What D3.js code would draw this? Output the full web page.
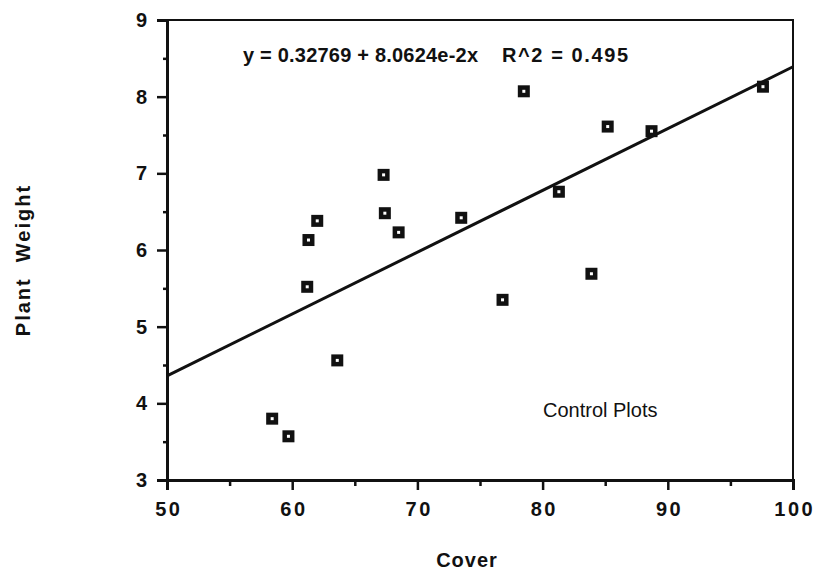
<!DOCTYPE html>
<html>
<head>
<meta charset="utf-8">
<script src="https://cdn.jsdelivr.net/npm/d3@7/dist/d3.min.js"></script>
<style>
  body { margin: 0; background: #fff; }
  svg { display: block; font-family: "Liberation Sans", Arial, sans-serif; }
</style>
</head>
<body>
<section></section>
<script>
// Cover vs Plant Weight, control plots
const cover = [58.4, 59.7, 61.2, 61.3, 62.0, 63.6, 67.3, 67.4, 68.5, 73.5, 76.8, 78.5, 81.3, 83.9, 85.2, 88.7, 97.6];
const weight = [3.80, 3.57, 5.52, 6.13, 6.38, 4.56, 6.98, 6.48, 6.23, 6.42, 5.35, 8.07, 6.76, 5.69, 7.61, 7.55, 8.13];
const xTicks = [50, 60, 70, 80, 90, 100];
const xMinor = [55, 65, 75, 85, 95];
const yTicks = [3, 4, 5, 6, 7, 8, 9];
const yMinor = [3.5, 4.5, 5.5, 6.5, 7.5, 8.5];
const intercept = 0.32769;
const slope = 0.080624;

const w = 814;
const h = 578;
const plotL = 167, plotR = 793, plotT = 20, plotB = 480;

const x = d3.scaleLinear().domain([50, 100]).range([plotL, plotR]);
const y = d3.scaleLinear().domain([3, 9]).range([plotB, plotT]);

const svg = d3.select("section")
  .append("svg")
  .attr("width", w)
  .attr("height", h);

svg.append("rect").attr("width", w).attr("height", h).attr("fill", "#fff");

// frame
svg.append("rect")
  .attr("x", plotL).attr("y", plotT)
  .attr("width", plotR - plotL).attr("height", plotB - plotT)
  .attr("fill", "none").attr("stroke", "#111").attr("stroke-width", 2);

// y axis
const yAxis = svg.append("g")
  .attr("transform", `translate(${plotL},0)`)
  .call(d3.axisLeft(y).tickValues(yTicks).tickSize(10).tickPadding(10).tickFormat(d3.format("d")));
svg.append("g")
  .attr("transform", `translate(${plotL},0)`)
  .call(d3.axisLeft(y).tickValues(yMinor).tickSize(4).tickFormat(""));

// x axis
const xAxis = svg.append("g")
  .attr("transform", `translate(0,${plotB})`)
  .call(d3.axisBottom(x).tickValues(xTicks).tickSize(10).tickPadding(12).tickFormat(d3.format("d")));
svg.append("g")
  .attr("transform", `translate(0,${plotB})`)
  .call(d3.axisBottom(x).tickValues(xMinor).tickSize(6).tickFormat(""));

svg.selectAll(".domain").attr("stroke", "#111").attr("stroke-width", 3);
svg.selectAll(".tick line").attr("stroke", "#111").attr("stroke-width", 2.5);
svg.selectAll(".tick text")
  .attr("fill", "#111")
  .attr("font-size", 20)
  .attr("font-weight", "bold")
  .attr("font-family", "Liberation Sans, Arial, sans-serif");
xAxis.selectAll(".tick text")
  .attr("letter-spacing", 2.5)
  .attr("dx", 1.25);

// regression line
svg.append("line")
  .attr("x1", x(50)).attr("y1", y(intercept + slope * 50))
  .attr("x2", x(100)).attr("y2", y(intercept + slope * 100))
  .attr("stroke", "#111")
  .attr("stroke-width", 3);

// markers
const pts = cover.map((c, i) => [c, weight[i]]);
svg.selectAll("rect.pt")
  .data(pts)
  .enter()
  .append("rect")
  .attr("class", "pt")
  .attr("x", d => x(d[0]) - 6)
  .attr("y", d => y(d[1]) - 6)
  .attr("width", 12)
  .attr("height", 12)
  .attr("fill", "#111");
svg.selectAll("rect.hole")
  .data(pts)
  .enter()
  .append("rect")
  .attr("class", "hole")
  .attr("x", d => x(d[0]) - 1.5)
  .attr("y", d => y(d[1]) - 1.5)
  .attr("width", 3)
  .attr("height", 3)
  .attr("fill", "#fff");

// equation
const eq = svg.append("text")
  .attr("y", 62)
  .attr("font-size", 20)
  .attr("font-weight", "bold")
  .attr("fill", "#111");
eq.append("tspan").attr("x", 243).attr("textLength", 235).text("y = 0.32769 + 8.0624e-2x");
eq.append("tspan").attr("x", 502).attr("textLength", 126).text("R^2 = 0.495");

svg.append("text")
  .attr("x", 543).attr("y", 417)
  .attr("font-size", 20)
  .attr("fill", "#111")
  .text("Control Plots");

svg.append("text")
  .attr("x", 467).attr("y", 567)
  .attr("text-anchor", "middle")
  .attr("font-size", 20)
  .attr("font-weight", "bold")
  .attr("letter-spacing", 1)
  .attr("fill", "#111")
  .text("Cover");

svg.append("text")
  .attr("transform", "translate(30,260) rotate(-90)")
  .attr("text-anchor", "middle")
  .attr("font-size", 20)
  .attr("font-weight", "bold")
  .attr("letter-spacing", 2)
  .style("white-space", "pre")
  .attr("fill", "#111")
  .text("Plant  Weight");
</script>
</body>
</html>
